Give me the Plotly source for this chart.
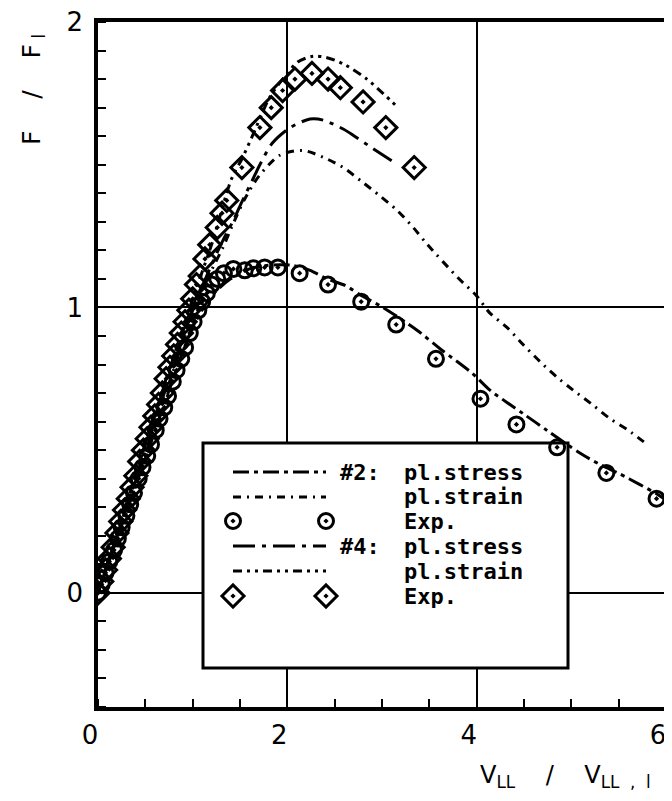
import plotly.graph_objects as go

# ---------------- data ----------------
exp2_x = [0.00, 0.04, 0.08, 0.12, 0.17, 0.21, 0.25, 0.30, 0.34, 0.38, 0.43, 0.47, 0.52, 0.56,
          0.61, 0.65, 0.70, 0.74, 0.79, 0.83, 0.88, 0.92, 0.97, 1.01, 1.06, 1.10, 1.15, 1.20,
          1.26, 1.33, 1.43, 1.55, 1.64, 1.76, 1.90, 2.13, 2.43, 2.78, 3.15, 3.57, 4.04, 4.42,
          4.85, 5.37, 5.90]
exp2_y = [0.00, 0.03, 0.07, 0.11, 0.15, 0.19, 0.23, 0.27, 0.31, 0.35, 0.40, 0.44, 0.48, 0.52,
          0.57, 0.61, 0.65, 0.69, 0.74, 0.78, 0.82, 0.86, 0.91, 0.95, 0.99, 1.02, 1.05, 1.08,
          1.10, 1.12, 1.135, 1.13, 1.137, 1.14, 1.14, 1.12, 1.08, 1.02, 0.94, 0.82, 0.68, 0.59,
          0.51, 0.42, 0.33]

exp4_x = [0.00, 0.04, 0.08, 0.12, 0.16, 0.20, 0.24, 0.28, 0.32, 0.36, 0.40, 0.44, 0.48, 0.52,
          0.56, 0.60, 0.64, 0.68, 0.72, 0.76, 0.80, 0.84, 0.88, 0.92, 0.96, 1.00, 1.04, 1.08,
          1.13, 1.18, 1.26, 1.31, 1.36, 1.52, 1.71, 1.83, 1.95, 2.08, 2.26, 2.43, 2.56, 2.80,
          3.04, 3.34]
exp4_y = [0.00, 0.04, 0.08, 0.12, 0.16, 0.21, 0.25, 0.29, 0.33, 0.37, 0.41, 0.46, 0.50, 0.54,
          0.58, 0.62, 0.66, 0.70, 0.75, 0.79, 0.83, 0.87, 0.91, 0.95, 0.99, 1.03, 1.08, 1.11,
          1.17, 1.22, 1.28, 1.33, 1.375, 1.49, 1.63, 1.70, 1.76, 1.80, 1.82, 1.80, 1.77, 1.72,
          1.63, 1.49]

stress2_x = [0.0, 0.5, 1.0, 1.2, 1.4, 1.6, 1.8, 2.06, 2.24, 2.42, 2.61, 2.79, 3.01, 3.37, 3.61,
             3.95, 4.14, 4.32, 4.49, 4.74, 5.09, 5.30, 5.51, 5.72, 5.90, 6.0]
stress2_y = [0.0, 0.47, 0.93, 1.04, 1.10, 1.135, 1.148, 1.147, 1.13, 1.10, 1.077, 1.04, 1.0, 0.92,
             0.856, 0.77, 0.71, 0.667, 0.628, 0.57, 0.49, 0.45, 0.417, 0.38, 0.347, 0.325]

strain2_x = [0.0, 0.5, 1.0, 1.2, 1.32, 1.41, 1.55, 1.70, 1.92, 2.16, 2.38, 2.59, 2.79, 2.98, 3.16,
             3.33, 3.48, 3.80, 4.00, 4.14, 4.32, 4.49, 4.67, 4.85, 5.02, 5.22, 5.41, 5.60, 5.80]
strain2_y = [0.0, 0.49, 0.97, 1.13, 1.21, 1.28, 1.38, 1.46, 1.533, 1.55, 1.526, 1.49, 1.44, 1.39,
             1.34, 1.28, 1.22, 1.105, 1.04, 0.98, 0.93, 0.87, 0.81, 0.755, 0.71, 0.66, 0.61, 0.57,
             0.52]

stress4_x = [0.0, 0.5, 1.0, 1.2, 1.32, 1.43, 1.52, 1.63, 1.71, 1.84, 2.03, 2.24, 2.38, 2.59, 2.71,
             2.89, 3.12]
stress4_y = [0.0, 0.50, 0.99, 1.15, 1.235, 1.305, 1.37, 1.445, 1.50, 1.575, 1.63, 1.66, 1.656,
             1.625, 1.60, 1.56, 1.51]

strain4_x = [0.0, 0.5, 1.0, 1.2, 1.41, 1.52, 1.63, 1.82, 2.0, 2.11, 2.27, 2.42, 2.61, 2.84, 3.01,
             3.17]
strain4_y = [0.0, 0.52, 1.03, 1.22, 1.45, 1.52, 1.60, 1.74, 1.82, 1.86, 1.88, 1.875, 1.85, 1.80,
             1.75, 1.70]

x_ticks = [0, 2, 4, 6]
y_ticks = [0, 1, 2]
x_range = [0, 6]
y_range = [-0.4, 2.0]

legend_labels = ["#2:", "pl.stress", "pl.strain", "Exp.", "#4:", "pl.stress", "pl.strain", "Exp."]
x_title = ("V<sub>LL</sub>&nbsp;&nbsp;&nbsp;&nbsp;/&nbsp;&nbsp;&nbsp;&nbsp;"
           "V<sub>LL&nbsp;&nbsp;,&nbsp;&nbsp;l</sub>")
y_title = "F&nbsp;&nbsp;&nbsp;&nbsp;/&nbsp;&nbsp;&nbsp;&nbsp;F<sub>&nbsp;l</sub>"

# ---------------- styles ----------------
BLACK = "black"
LW = 3
dash_stress2 = "16px,5px,4px,5px"
dash_strain2 = "8px,6px,2px,6px"
dash_stress4 = "22px,7px,4px,7px"
dash_strain4 = "9px,5px,3px,5px,3px,5px"

# page has an 8px body margin; keep the figure inside the window so no scrollbar appears
OFF = 8
W, H = 672 - OFF, 801 - 2 * OFF
L, R, T, B = 98, 666, 22, 707          # page pixel coordinates of the plot area

fig = go.Figure()

def line_trace(x, y, dash, xa="x", ya="y", shape="spline"):
    return go.Scatter(x=x, y=y, mode="lines", xaxis=xa, yaxis=ya, showlegend=False,
                      line=dict(color=BLACK, width=LW, dash=dash, shape=shape, smoothing=0.8),
                      hoverinfo="skip")

fig.add_trace(line_trace(stress2_x, stress2_y, dash_stress2))
fig.add_trace(line_trace(strain2_x, strain2_y, dash_strain2))
fig.add_trace(line_trace(stress4_x, stress4_y, dash_stress4))
fig.add_trace(line_trace(strain4_x, strain4_y, dash_strain4))

circle_marker = dict(symbol="circle-open-dot", size=15, color=BLACK, line=dict(color=BLACK, width=3))
diamond_marker = dict(symbol="diamond-open-dot", size=17, color=BLACK, line=dict(color=BLACK, width=3))

fig.add_trace(go.Scatter(x=exp4_x, y=exp4_y, mode="markers", marker=diamond_marker, showlegend=False))
fig.add_trace(go.Scatter(x=exp2_x, y=exp2_y, mode="markers", marker=circle_marker, showlegend=False))

# ---------------- custom legend (pixel overlay axes) ----------------
row_y = [472, 497, 521, 546, 571, 596]
sx0, sx1 = 233, 326
fig.add_trace(line_trace([sx0, sx1], [row_y[0], row_y[0]], dash_stress2, "x2", "y2", "linear"))
fig.add_trace(line_trace([sx0, sx1], [row_y[1], row_y[1]], dash_strain2, "x2", "y2", "linear"))
fig.add_trace(line_trace([sx0, sx1], [row_y[3], row_y[3]], dash_stress4, "x2", "y2", "linear"))
fig.add_trace(line_trace([sx0, sx1], [row_y[4], row_y[4]], dash_strain4, "x2", "y2", "linear"))
fig.add_trace(go.Scatter(x=[sx0, sx1], y=[row_y[2], row_y[2]], mode="markers", xaxis="x2", yaxis="y2",
                         marker=circle_marker, showlegend=False, hoverinfo="skip"))
fig.add_trace(go.Scatter(x=[sx0, sx1], y=[row_y[5], row_y[5]], mode="markers", xaxis="x2", yaxis="y2",
                         marker=diamond_marker, showlegend=False, hoverinfo="skip"))

def pxp(px):
    return (px - L) / (R - L)

def pyp(py):
    return (B - py) / (B - T)

FONT = "DejaVu Sans Mono"
legfont = dict(family=FONT, size=22, color=BLACK, weight="bold")
ann = []
text_rows = [(338, row_y[0], legend_labels[0]), (402, row_y[0], legend_labels[1]),
             (402, row_y[1], legend_labels[2]), (402, row_y[2], legend_labels[3]),
             (338, row_y[3], legend_labels[4]), (402, row_y[3], legend_labels[5]),
             (402, row_y[4], legend_labels[6]), (402, row_y[5], legend_labels[7])]
for tx, ty, t in text_rows:
    ann.append(dict(x=pxp(tx), y=pyp(ty), xref="paper", yref="paper", text=t, showarrow=False,
                    xanchor="left", yanchor="middle", font=legfont))

# axis titles
ann.append(dict(x=pxp(33), y=pyp(90), xref="paper", yref="paper", text=y_title,
                showarrow=False, textangle=-90, xanchor="center", yanchor="middle",
                font=dict(family="DejaVu Sans", size=25, color=BLACK)))
ann.append(dict(x=pxp(565), y=pyp(776), xref="paper", yref="paper", text=x_title,
                showarrow=False, xanchor="center", yanchor="middle",
                font=dict(family="DejaVu Sans", size=24, color=BLACK)))

# legend box, converted from page pixels to data units
def px2x(px):
    return x_range[0] + (px - L) / (R - L) * (x_range[1] - x_range[0])

def py2y(py):
    return y_range[1] - (py - T) / (B - T) * (y_range[1] - y_range[0])

shapes = [dict(type="rect", xref="x", yref="y", x0=px2x(203), x1=px2x(568), y0=py2y(443), y1=py2y(668),
               line=dict(color=BLACK, width=3), fillcolor="white", layer="between")]

axis_common = dict(showline=True, linecolor=BLACK, linewidth=3.5, mirror=True,
                   showgrid=True, gridcolor=BLACK, gridwidth=2, zeroline=False,
                   ticks="", ticklabeloverflow="allow", automargin=False,
                   tickfont=dict(family="DejaVu Sans", size=26, color=BLACK))

fig.update_layout(
    width=W, height=H, autosize=False,
    margin=dict(l=L - OFF, r=W - (R - OFF), t=T - OFF, b=H - (B - OFF), pad=0),
    paper_bgcolor="white", plot_bgcolor="white",
    showlegend=False,
    xaxis=dict(range=x_range, tickmode="array", tickvals=x_ticks, ticklabelstandoff=2,
               ticklabelshift=-8,
               minor=dict(ticks="inside", dtick=0.5, ticklen=8, tickwidth=2, tickcolor=BLACK, showgrid=False),
               **axis_common),
    yaxis=dict(range=y_range, tickmode="array", tickvals=y_ticks, ticklabelstandoff=6,
               minor=dict(ticks="inside", dtick=0.1, ticklen=8, tickwidth=2, tickcolor=BLACK, showgrid=False),
               **axis_common),
    xaxis2=dict(overlaying="x", range=[L, R], visible=False, automargin=False),
    yaxis2=dict(overlaying="y", range=[B, T], visible=False, automargin=False),
    annotations=ann,
    shapes=shapes,
)

fig.write_html("out.html", config={"displayModeBar": False})
